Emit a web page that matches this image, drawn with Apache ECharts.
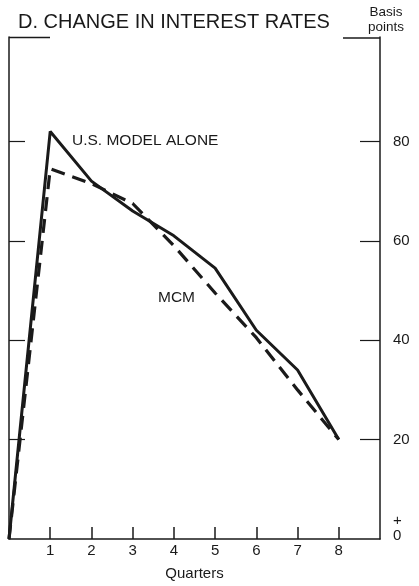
<!DOCTYPE html>
<html>
<head>
<meta charset="utf-8">
<script src="https://cdn.jsdelivr.net/npm/echarts@6/dist/echarts.min.js"></script>
<style>
html,body{margin:0;padding:0;background:#fff;}
#chart{width:419px;height:586px;}
</style>
</head>
<body>
<div id="chart"></div>
<script>
// ---- data ----
var quarters = [0, 1, 2, 3, 4, 5, 6, 7, 8];
var usModelAlone = [0, 82, 72, 66, 61, 54.5, 42, 34, 20];
var mcm = [0, 74.5, 71.5, 67.5, 59, 49.5, 40.5, 30, 20];
var xTickValues = [1, 2, 3, 4, 5, 6, 7, 8];
var yTickValues = [20, 40, 60, 80];
var yLabelValues = [0, 20, 40, 60, 80];

var FONT = "'Liberation Sans', Arial, Helvetica, sans-serif";
var INK = '#1a1a1a';

function pairs(xs, ys) { return xs.map(function (x, i) { return [x, ys[i]]; }); }

var chart = echarts.init(document.getElementById('chart'), null, {renderer: 'canvas'});
var option = {
  animation: false,
  backgroundColor: '#fff',
  grid: {left: 9, right: 39, top: 37, bottom: 38},
  xAxis: {
    type: 'value', min: 0, max: 9,
    name: 'Quarters', nameLocation: 'middle', nameGap: 27,
    nameTextStyle: {fontFamily: FONT, fontSize: 15, color: INK},
    axisLine: {show: true, lineStyle: {color: INK, width: 1.5}},
    axisTick: {show: true, inside: true, length: 12, customValues: xTickValues, lineStyle: {color: INK, width: 1.5}},
    axisLabel: {show: true, customValues: xTickValues, margin: 4, fontFamily: FONT, fontSize: 15, color: INK},
    splitLine: {show: false}
  },
  yAxis: [{
    type: 'value', position: 'right', min: 0, max: 101,
    axisLine: {show: true, onZero: false, lineStyle: {color: INK, width: 1.5}},
    axisTick: {show: true, inside: true, length: 20, customValues: yTickValues, lineStyle: {color: INK, width: 1.2}},
    axisLabel: {
      show: true, customValues: yLabelValues, margin: 13, fontFamily: FONT, fontSize: 15, color: INK,
      formatter: function (v) { return v === 0 ? '{a|+}\n{a|0}\n{b| }' : String(v); },
      rich: {a: {fontFamily: FONT, fontSize: 15, color: INK, lineHeight: 15}, b: {fontSize: 10, lineHeight: 22}}
    },
    splitLine: {show: false}
  }, {
    type: 'value', position: 'left', min: 0, max: 101,
    axisLine: {show: true, onZero: false, lineStyle: {color: INK, width: 1.5}},
    axisTick: {show: true, inside: true, length: 16, customValues: yTickValues, lineStyle: {color: INK, width: 1.2}},
    axisLabel: {show: false},
    splitLine: {show: false}
  }],
  series: [{
    name: 'U.S. MODEL ALONE', type: 'line', data: pairs(quarters, usModelAlone),
    showSymbol: false, symbol: 'none', yAxisIndex: 0,
    lineStyle: {color: INK, width: 3, type: 'solid'}
  }, {
    name: 'MCM', type: 'line', data: pairs(quarters, mcm),
    showSymbol: false, symbol: 'none', yAxisIndex: 0,
    lineStyle: {color: INK, width: 3.2, type: [14, 8]}
  }],
  graphic: [
    {type: 'text', left: 18, top: 12, style: {text: 'D. CHANGE IN INTEREST RATES', font: '20px ' + FONT, fill: INK}},
    {type: 'text', x: 386, y: 12, style: {text: 'Basis', font: '13.5px ' + FONT, fill: INK, align: 'center', verticalAlign: 'middle'}},
    {type: 'text', x: 386, y: 27, style: {text: 'points', font: '13.5px ' + FONT, fill: INK, align: 'center', verticalAlign: 'middle'}},
    {type: 'line', shape: {x1: 9, y1: 37.5, x2: 50, y2: 37.5}, style: {stroke: INK, lineWidth: 1.5}},
    {type: 'line', shape: {x1: 343, y1: 38, x2: 380, y2: 38}, style: {stroke: INK, lineWidth: 1.5}},
    {type: 'text', x: 72, y: 141, style: {text: 'U.S. MODEL ALONE', font: '15.5px ' + FONT, fill: INK, verticalAlign: 'middle'}},
    {type: 'text', x: 158, y: 298, style: {text: 'MCM', font: '15.5px ' + FONT, fill: INK, verticalAlign: 'middle'}}
  ]
};
chart.setOption(option);
</script>
</body>
</html>
